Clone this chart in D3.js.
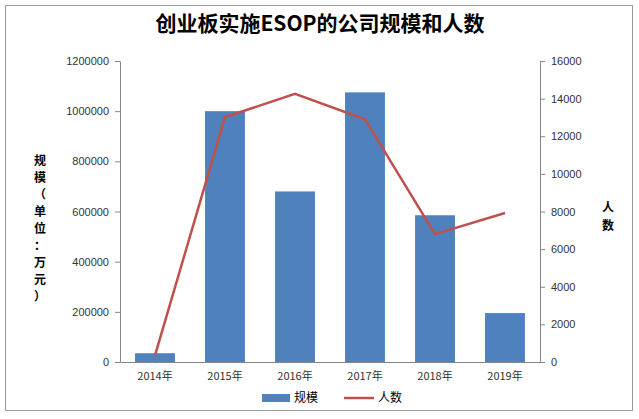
<!DOCTYPE html>
<html><head><meta charset="utf-8">
<script src="https://cdn.jsdelivr.net/npm/d3@7"></script>
<style>body{margin:0;background:#fff;font-family:"Noto Sans CJK SC","Liberation Sans",sans-serif}</style>
</head><body><div id="chart"></div>
<script>
// data
const years = ["2014年","2015年","2016年","2017年","2018年","2019年"];
const scale = [35000, 1000000, 680000, 1075000, 585000, 195000];
const people = [350, 13020, 14250, 12900, 6800, 7920];
const leftTicks = [0,200000,400000,600000,800000,1000000,1200000];
const rightTicks = [0,2000,4000,6000,8000,10000,12000,14000,16000];

var width = 639, height = 419;
var margin = {top: 61, right: 99, bottom: 57, left: 120};
var w = width - margin.left - margin.right, h = height - margin.top - margin.bottom;

var svg = d3.select("#chart").append("svg").attr("width", width).attr("height", height);
svg.append("rect").attr("x",5.5).attr("y",5.5).attr("width",627).attr("height",405)
  .attr("fill","none").attr("stroke","#9a9a9a");

svg.append("text").attr("x",320).attr("y",31).attr("text-anchor","middle")
  .attr("font-size",21).attr("font-weight","bold").text("创业板实施ESOP的公司规模和人数");

var g = svg.append("g").attr("transform","translate("+margin.left+","+margin.top+")");

var x = d3.scaleBand().domain(years).range([0,w]).paddingInner(0.43).paddingOuter(0.215);
var yL = d3.scaleLinear().domain([0,1200000]).range([h,0]);
var yR = d3.scaleLinear().domain([0,16000]).range([h,0]);

g.selectAll(".bar").data(scale).enter().append("rect")
  .attr("x",(d,i)=>x(years[i])).attr("width",x.bandwidth())
  .attr("y",d=>yL(d)).attr("height",d=>h-yL(d)).attr("fill","#4F81BD");

var line = d3.line().x((d,i)=>x(years[i])+x.bandwidth()/2).y(d=>yR(d));
g.append("path").datum(people).attr("d",line).attr("fill","none")
  .attr("stroke","#C0504D").attr("stroke-width",2.5);

function style(sel){
  sel.selectAll("path").attr("stroke","#868686");
  sel.selectAll("line").attr("stroke","#868686");
  sel.selectAll("text").attr("font-size",11).attr("fill","#333").attr("font-family","Liberation Sans, sans-serif");
}
g.append("g").attr("transform","translate(0,"+h+")")
  .call(d3.axisBottom(x).tickSize(0).tickPadding(10)).call(style)
  .selectAll("text").attr("font-family","Noto Sans CJK SC").attr("font-size",11);
g.append("g").call(d3.axisLeft(yL).tickValues(leftTicks).tickFormat(d3.format("d")).tickSize(5).tickSizeOuter(0).tickPadding(6)).call(style);
g.append("g").attr("transform","translate("+w+",0)")
  .call(d3.axisRight(yR).tickValues(rightTicks).tickFormat(d3.format("d")).tickSize(5).tickSizeOuter(0).tickPadding(6)).call(style);

// vertical axis titles
var lt = "规模（单位：万元）".split("");
svg.append("g").selectAll("text").data(lt).enter().append("text")
  .attr("x",40).attr("y",(d,i)=>165+i*17).attr("text-anchor","middle")
  .attr("font-size",12).attr("font-weight","bold").text(d=>d);
svg.append("g").selectAll("text").data(["人","数"]).enter().append("text")
  .attr("x",608).attr("y",(d,i)=>212+i*18).attr("text-anchor","middle")
  .attr("font-size",12).attr("font-weight","bold").text(d=>d);

// legend
var lg = svg.append("g").attr("font-size",12);
lg.append("rect").attr("x",262).attr("y",394).attr("width",28).attr("height",8).attr("fill","#4F81BD");
lg.append("text").attr("x",294).attr("y",402).text("规模");
lg.append("line").attr("x1",344).attr("x2",374).attr("y1",398).attr("y2",398).attr("stroke","#C0504D").attr("stroke-width",2.5);
lg.append("text").attr("x",378).attr("y",402).text("人数");
</script></body></html>
